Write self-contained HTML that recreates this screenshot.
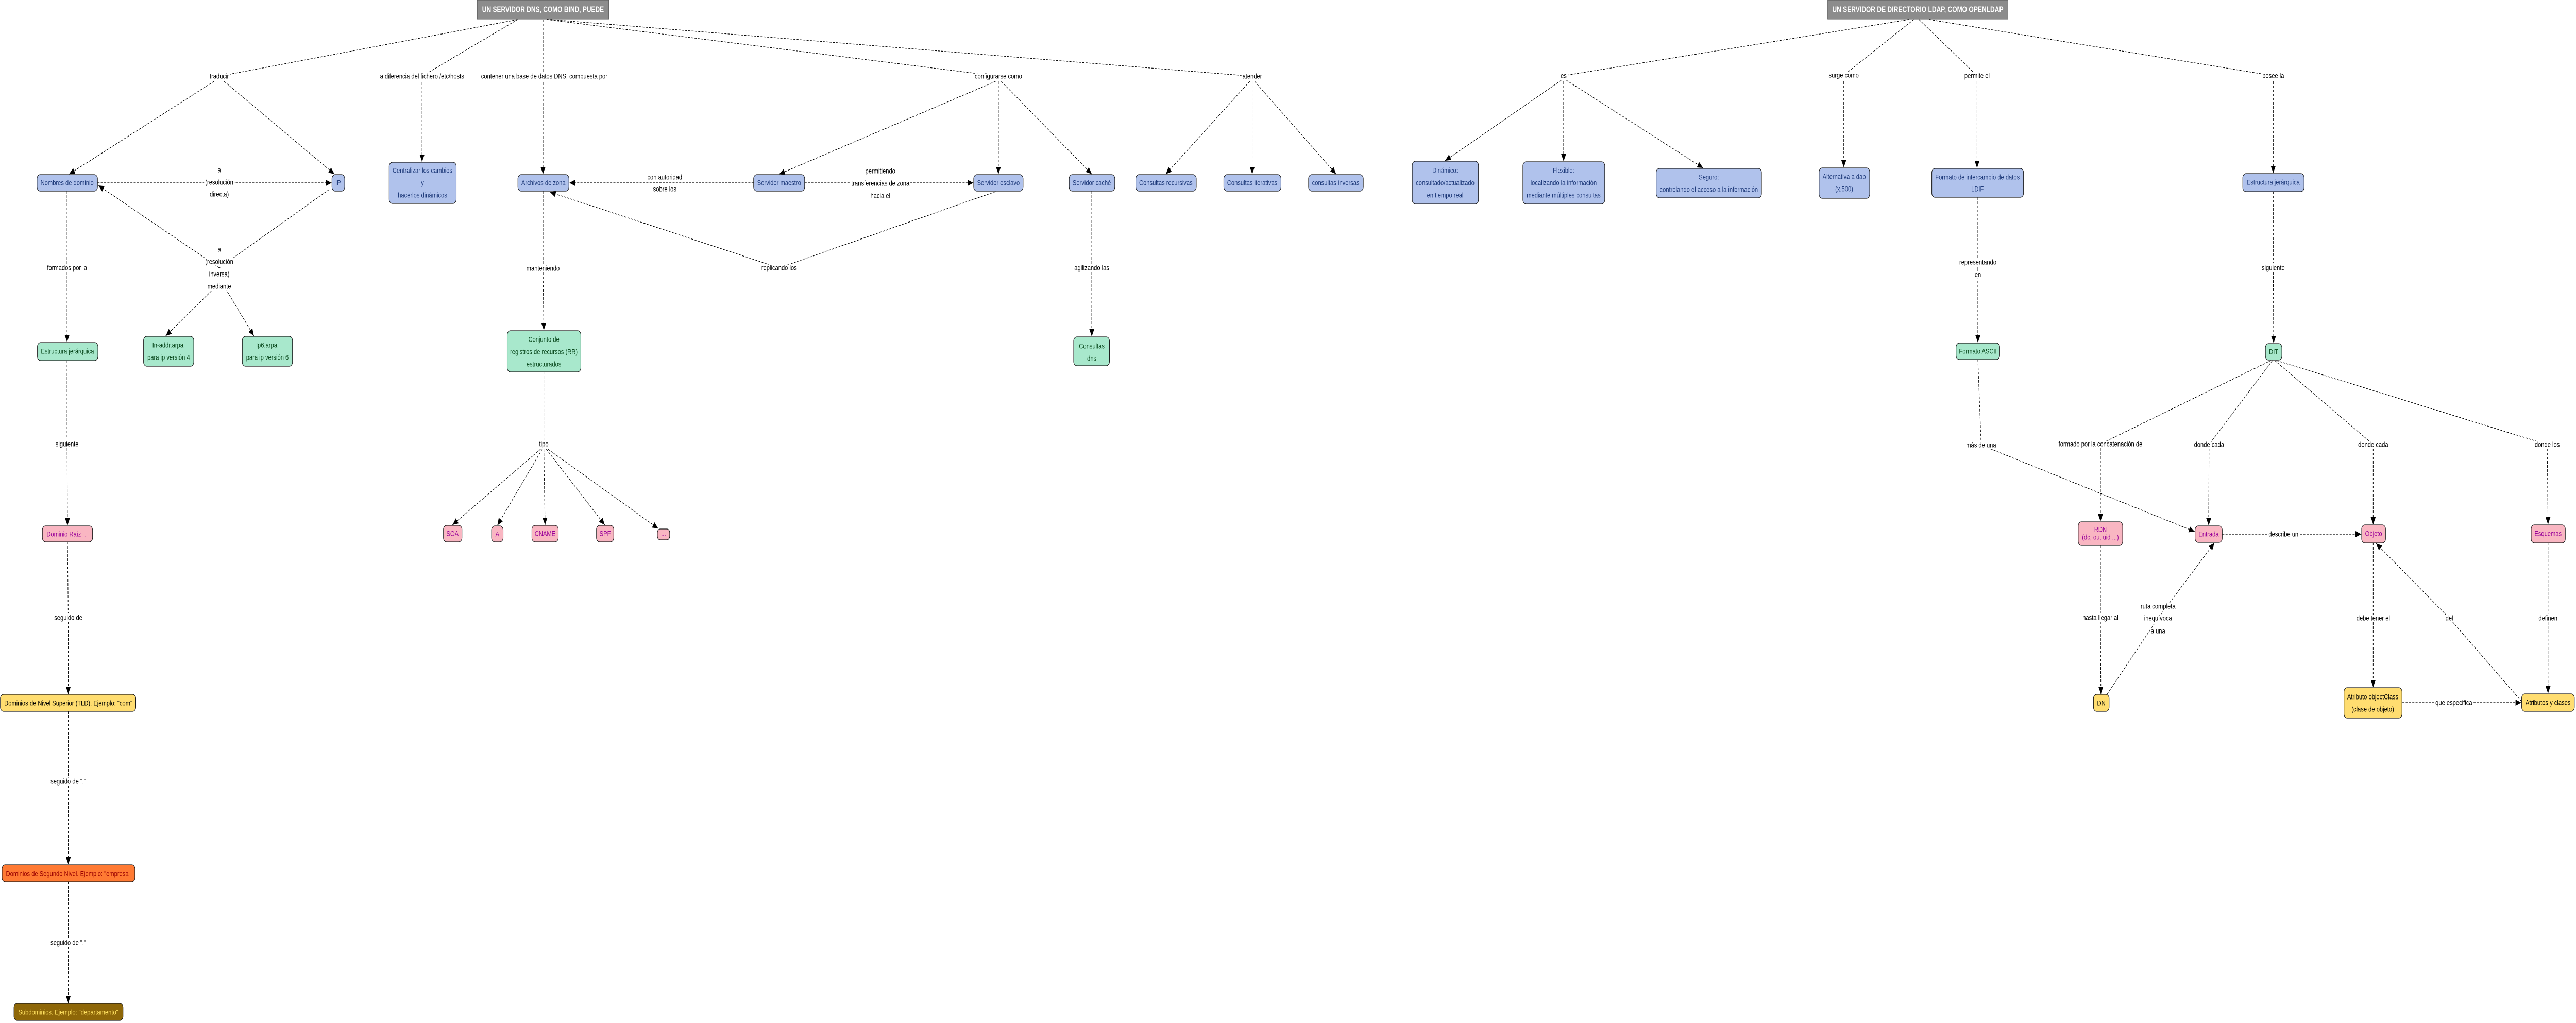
<!DOCTYPE html>
<html><head><meta charset="utf-8"><style>
html,body{margin:0;padding:0;background:#fff;overflow:hidden;width:100vw;height:100vh}
svg{display:block;width:100vw;height:100vh}
text{font-family:"Liberation Sans",sans-serif;font-size:14px}
.l{fill:none;stroke:#000;stroke-width:1.2;stroke-dasharray:5,3}
.a{marker-end:url(#ar)}
.lb{fill:#000;text-anchor:middle;dominant-baseline:central;stroke:#fff;stroke-width:7px;paint-order:stroke;stroke-linejoin:round}
.t{text-anchor:middle;dominant-baseline:central}
.bl{fill:#b0c2ec;stroke:#1a1a1a;stroke-width:1.3}
.gr{fill:#a8e8cc;stroke:#1a1a1a;stroke-width:1.3}
.pk{fill:#f9b6c2;stroke:#1a1a1a;stroke-width:1.3}
.ye{fill:#ffdd70;stroke:#1a1a1a;stroke-width:1.3}
.or{fill:#ff7a33;stroke:#1a1a1a;stroke-width:1.3}
.br{fill:#8e6708;stroke:#1a1a1a;stroke-width:1.3}
.tb{fill:#1e3a7a}.tg{fill:#0a4a1e}.tp{fill:#990099}.ty{fill:#000}.to{fill:#990000}.tr{fill:#ffe060}
.ti{fill:#fff;font-weight:bold;font-size:16px}
</style></head><body>
<svg viewBox="0 0 6262 1986" preserveAspectRatio="none" xmlns="http://www.w3.org/2000/svg">
<defs><marker id="ar" markerUnits="userSpaceOnUse" markerWidth="14" markerHeight="12" refX="14" refY="6" orient="auto"><path d="M0,0 L14,6 L0,12 z" fill="#000"/></marker></defs>

<line class="l" x1="1258" y1="38" x2="533" y2="148"/>
<line class="l" x1="1258" y1="38" x2="1026" y2="148"/>
<line class="l" x1="1320" y1="38" x2="1320" y2="148"/>
<line class="l" x1="1330" y1="38" x2="2427" y2="148"/>
<line class="l" x1="1338" y1="38" x2="3044" y2="148"/>
<line class="l a" x1="520" y1="158" x2="168" y2="338"/>
<line class="l a" x1="545" y1="158" x2="813" y2="338"/>
<line class="l a" x1="237" y1="355" x2="806" y2="355"/>
<line class="l" x1="800" y1="368" x2="533" y2="520"/>
<line class="l a" x1="533" y1="520" x2="239" y2="360"/>
<line class="l a" x1="520" y1="560" x2="403" y2="652"/>
<line class="l a" x1="548" y1="560" x2="617" y2="652"/>
<line class="l" x1="163" y1="371" x2="163" y2="520"/>
<line class="l a" x1="163" y1="520" x2="163" y2="664"/>
<line class="l" x1="163" y1="700" x2="163" y2="862"/>
<line class="l a" x1="163" y1="862" x2="164" y2="1020"/>
<line class="l" x1="164" y1="1052" x2="166" y2="1199"/>
<line class="l a" x1="166" y1="1199" x2="166" y2="1347"/>
<line class="l" x1="166" y1="1381" x2="166" y2="1517"/>
<line class="l a" x1="166" y1="1517" x2="166" y2="1678"/>
<line class="l" x1="166" y1="1712" x2="166" y2="1830"/>
<line class="l a" x1="166" y1="1830" x2="166" y2="1947"/>
<line class="l a" x1="1026" y1="160" x2="1026" y2="314"/>
<line class="l a" x1="1320" y1="160" x2="1320" y2="338"/>
<line class="l" x1="1320" y1="371" x2="1320" y2="521"/>
<line class="l a" x1="1320" y1="521" x2="1322" y2="641"/>
<line class="l" x1="1322" y1="722" x2="1322" y2="862"/>
<line class="l a" x1="1314" y1="872" x2="1100" y2="1019"/>
<line class="l a" x1="1318" y1="872" x2="1209" y2="1020"/>
<line class="l a" x1="1322" y1="872" x2="1325" y2="1019"/>
<line class="l a" x1="1328" y1="872" x2="1470" y2="1019"/>
<line class="l a" x1="1332" y1="872" x2="1600" y2="1026"/>
<line class="l" x1="1832" y1="355" x2="1616" y2="355"/>
<line class="l a" x1="1616" y1="355" x2="1384" y2="355"/>
<line class="l" x1="1956" y1="355" x2="2140" y2="355"/>
<line class="l a" x1="2140" y1="355" x2="2366" y2="355"/>
<line class="l" x1="2420" y1="372" x2="1894" y2="520"/>
<line class="l a" x1="1894" y1="520" x2="1337" y2="373"/>
<line class="l a" x1="2420" y1="158" x2="1894" y2="338"/>
<line class="l a" x1="2427" y1="158" x2="2427" y2="338"/>
<line class="l a" x1="2434" y1="158" x2="2654" y2="338"/>
<line class="l" x1="2654" y1="371" x2="2654" y2="520"/>
<line class="l a" x1="2654" y1="520" x2="2654" y2="653"/>
<line class="l a" x1="3038" y1="158" x2="2834" y2="338"/>
<line class="l a" x1="3044" y1="158" x2="3044" y2="338"/>
<line class="l a" x1="3050" y1="158" x2="3248" y2="338"/>

<line class="l" x1="4640" y1="38" x2="3801" y2="147"/>
<line class="l" x1="4652" y1="38" x2="4482" y2="146"/>
<line class="l" x1="4665" y1="38" x2="4806" y2="147"/>
<line class="l" x1="4690" y1="38" x2="5526" y2="147"/>
<line class="l a" x1="3795" y1="156" x2="3513" y2="312"/>
<line class="l a" x1="3801" y1="158" x2="3801" y2="313"/>
<line class="l a" x1="3808" y1="156" x2="4140" y2="326"/>
<line class="l a" x1="4482" y1="158" x2="4482" y2="325"/>
<line class="l a" x1="4806" y1="158" x2="4806" y2="326"/>
<line class="l" x1="4808" y1="383" x2="4808" y2="521"/>
<line class="l a" x1="4808" y1="521" x2="4808" y2="665"/>
<line class="l" x1="4808" y1="698" x2="4816" y2="864"/>
<line class="l a" x1="4816" y1="864" x2="5335" y2="1032"/>
<line class="l a" x1="5526" y1="158" x2="5526" y2="336"/>
<line class="l" x1="5526" y1="372" x2="5526" y2="520"/>
<line class="l a" x1="5526" y1="520" x2="5527" y2="666"/>
<line class="l" x1="5520" y1="700" x2="5106" y2="862"/>
<line class="l a" x1="5106" y1="862" x2="5106" y2="1012"/>
<line class="l" x1="5524" y1="700" x2="5370" y2="863"/>
<line class="l a" x1="5370" y1="863" x2="5369" y2="1020"/>
<line class="l" x1="5530" y1="700" x2="5769" y2="863"/>
<line class="l a" x1="5769" y1="863" x2="5769" y2="1018"/>
<line class="l" x1="5534" y1="700" x2="6192" y2="863"/>
<line class="l a" x1="6192" y1="863" x2="6194" y2="1018"/>
<line class="l" x1="5106" y1="1059" x2="5106" y2="1199"/>
<line class="l a" x1="5106" y1="1199" x2="5107" y2="1347"/>
<line class="l" x1="5122" y1="1348" x2="5246" y2="1200"/>
<line class="l a" x1="5246" y1="1200" x2="5383" y2="1054"/>
<line class="l" x1="5402" y1="1037" x2="5551" y2="1037"/>
<line class="l a" x1="5551" y1="1037" x2="5740" y2="1037"/>
<line class="l" x1="5769" y1="1054" x2="5769" y2="1200"/>
<line class="l a" x1="5769" y1="1200" x2="5769" y2="1334"/>
<line class="l" x1="6130" y1="1362" x2="5954" y2="1200"/>
<line class="l a" x1="5954" y1="1200" x2="5776" y2="1055"/>
<line class="l" x1="5840" y1="1364" x2="5965" y2="1364"/>
<line class="l a" x1="5965" y1="1364" x2="6129" y2="1364"/>
<line class="l" x1="6194" y1="1054" x2="6194" y2="1200"/>
<line class="l a" x1="6194" y1="1200" x2="6194" y2="1346"/>

<text class="lb" x="533" y="148">traducir</text>
<text class="lb" x="1026" y="148">a diferencia del fichero /etc/hosts</text>
<text class="lb" x="1323" y="148">contener una base de datos DNS, compuesta por</text>
<text class="lb" x="2427" y="148">configurarse como</text>
<text class="lb" x="3044" y="148">atender</text>
<text class="lb" x="533" y="330">a</text><text class="lb" x="533" y="354">(resolución</text><text class="lb" x="533" y="377">directa)</text>
<text class="lb" x="533" y="484">a</text><text class="lb" x="533" y="508">(resolución</text><text class="lb" x="533" y="532">inversa)</text><text class="lb" x="533" y="556">mediante</text>
<text class="lb" x="163" y="520">formados por la</text>
<text class="lb" x="163" y="862">siguiente</text>
<text class="lb" x="166" y="1199">seguido de</text>
<text class="lb" x="166" y="1517">seguido de "."</text>
<text class="lb" x="166" y="1830">seguido de "."</text>
<text class="lb" x="1320" y="521">manteniendo</text>
<text class="lb" x="1322" y="862">tipo</text>
<text class="lb" x="1616" y="344">con autoridad</text><text class="lb" x="1616" y="367">sobre los</text>
<text class="lb" x="2140" y="332">permitiendo</text><text class="lb" x="2140" y="356">transferencias de zona</text><text class="lb" x="2140" y="380">hacia el</text>
<text class="lb" x="1894" y="520">replicando los</text>
<text class="lb" x="2654" y="520">agilizando las</text>
<text class="lb" x="3801" y="147">es</text>
<text class="lb" x="4482" y="146">surge como</text>
<text class="lb" x="4806" y="147">permite el</text>
<text class="lb" x="5526" y="147">posee la</text>
<text class="lb" x="4808" y="509">representando</text><text class="lb" x="4808" y="533">en</text>
<text class="lb" x="4816" y="864">más de una</text>
<text class="lb" x="5526" y="520">siguiente</text>
<text class="lb" x="5106" y="862">formado por la concatenación de</text>
<text class="lb" x="5370" y="863">donde cada</text>
<text class="lb" x="5769" y="863">donde cada</text>
<text class="lb" x="6192" y="863">donde los</text>
<text class="lb" x="5106" y="1199">hasta llegar al</text>
<text class="lb" x="5246" y="1177">ruta completa</text><text class="lb" x="5246" y="1200">inequívoca</text><text class="lb" x="5246" y="1225">a una</text>
<text class="lb" x="5551" y="1037">describe un</text>
<text class="lb" x="5769" y="1200">debe tener el</text>
<text class="lb" x="5954" y="1200">del</text>
<text class="lb" x="6194" y="1200">definen</text>
<text class="lb" x="5965" y="1364">que especifica</text>

<rect x="1160" y="0" width="320" height="37" fill="#8c8c8c" stroke="#555"/>
<text class="t ti" x="1320" y="19" textLength="296" lengthAdjust="spacingAndGlyphs">UN SERVIDOR DNS, COMO BIND, PUEDE</text>
<rect x="4443" y="0" width="438" height="37" fill="#8c8c8c" stroke="#555"/>
<text class="t ti" x="4662" y="19" textLength="416" lengthAdjust="spacingAndGlyphs">UN SERVIDOR DE DIRECTORIO LDAP, COMO OPENLDAP</text>

<rect class="bl" x="90" y="339" width="147" height="32" rx="8"/><text class="t tb" x="163" y="355">Nombres de dominio</text>
<rect class="bl" x="807" y="339" width="31" height="32" rx="8"/><text class="t tb" x="822" y="355">IP</text>
<rect class="bl" x="946" y="315" width="163" height="80" rx="8"/><text class="t tb" x="1027" y="331">Centralizar los cambios</text><text class="t tb" x="1027" y="355">y</text><text class="t tb" x="1027" y="379">hacerlos dinámicos</text>
<rect class="bl" x="1259" y="339" width="124" height="32" rx="8"/><text class="t tb" x="1321" y="355">Archivos de zona</text>
<rect class="bl" x="1832" y="339" width="124" height="32" rx="8"/><text class="t tb" x="1894" y="355">Servidor maestro</text>
<rect class="bl" x="2367" y="339" width="120" height="32" rx="8"/><text class="t tb" x="2427" y="355">Servidor esclavo</text>
<rect class="bl" x="2599" y="339" width="111" height="32" rx="8"/><text class="t tb" x="2654" y="355">Servidor caché</text>
<rect class="bl" x="2761" y="339" width="147" height="32" rx="8"/><text class="t tb" x="2834" y="355">Consultas recursivas</text>
<rect class="bl" x="2975" y="339" width="139" height="32" rx="8"/><text class="t tb" x="3044" y="355">Consultas iterativas</text>
<rect class="bl" x="3181" y="339" width="133" height="32" rx="8"/><text class="t tb" x="3247" y="355">consultas inversas</text>

<rect class="gr" x="91" y="665" width="147" height="35" rx="8"/><text class="t tg" x="164" y="682">Estructura jerárquica</text>
<rect class="gr" x="349" y="653" width="122" height="58" rx="8"/><text class="t tg" x="410" y="670">In-addr.arpa.</text><text class="t tg" x="410" y="694">para ip versión 4</text>
<rect class="gr" x="589" y="653" width="122" height="58" rx="8"/><text class="t tg" x="650" y="670">Ip6.arpa.</text><text class="t tg" x="650" y="694">para ip versión 6</text>
<rect class="gr" x="1233" y="642" width="179" height="80" rx="8"/><text class="t tg" x="1322" y="659">Conjunto de</text><text class="t tg" x="1322" y="683">registros de recursos (RR)</text><text class="t tg" x="1322" y="707">estructurados</text>
<rect class="gr" x="2610" y="654" width="87" height="56" rx="8"/><text class="t tg" x="2654" y="672">Consultas</text><text class="t tg" x="2654" y="696">dns</text>

<rect class="pk" x="103" y="1021" width="122" height="31" rx="8"/><text class="t tp" x="164" y="1037">Dominio Raíz "."</text>
<rect class="ye" x="1" y="1348" width="329" height="33" rx="8"/><text class="t ty" x="166" y="1365">Dominios de Nivel Superior (TLD). Ejemplo: "com"</text>
<rect class="or" x="5" y="1679" width="323" height="33" rx="8"/><text class="t to" x="166" y="1696">Dominios de Segundo Nivel. Ejemplo: "empresa"</text>
<rect class="br" x="34" y="1948" width="265" height="33" rx="8"/><text class="t tr" x="166" y="1965">Subdominios. Ejemplo: "departamento"</text>

<rect class="pk" x="1078" y="1020" width="45" height="32" rx="8"/><text class="t tp" x="1100" y="1036">SOA</text>
<rect class="pk" x="1195" y="1021" width="28" height="31" rx="8"/><text class="t tp" x="1209" y="1037">A</text>
<rect class="pk" x="1293" y="1020" width="64" height="32" rx="8"/><text class="t tp" x="1325" y="1036">CNAME</text>
<rect class="pk" x="1450" y="1020" width="42" height="32" rx="8"/><text class="t tp" x="1471" y="1036">SPF</text>
<rect class="pk" x="1598" y="1027" width="30" height="21" rx="7"/><text class="t tp" x="1613" y="1036">...</text>

<rect class="bl" x="3433" y="313" width="161" height="83" rx="8"/><text class="t tb" x="3513" y="331">Dinámico:</text><text class="t tb" x="3513" y="355">consultado/actualizado</text><text class="t tb" x="3513" y="379">en tiempo real</text>
<rect class="bl" x="3702" y="314" width="199" height="82" rx="8"/><text class="t tb" x="3801" y="331">Flexible:</text><text class="t tb" x="3801" y="355">localizando la información</text><text class="t tb" x="3801" y="379">mediante múltiples consultas</text>
<rect class="bl" x="4026" y="327" width="256" height="57" rx="8"/><text class="t tb" x="4154" y="344">Seguro:</text><text class="t tb" x="4154" y="368">controlando el acceso a la información</text>
<rect class="bl" x="4422" y="326" width="123" height="59" rx="8"/><text class="t tb" x="4483" y="343">Alternativa a dap</text><text class="t tb" x="4483" y="367">(x.500)</text>
<rect class="bl" x="4696" y="327" width="223" height="56" rx="8"/><text class="t tb" x="4807" y="344">Formato de intercambio de datos</text><text class="t tb" x="4807" y="367">LDIF</text>
<rect class="bl" x="5452" y="337" width="149" height="35" rx="8"/><text class="t tb" x="5526" y="354">Estructura jerárquica</text>
<rect class="gr" x="4755" y="666" width="106" height="32" rx="8"/><text class="t tg" x="4808" y="682">Formato ASCII</text>
<rect class="gr" x="5507" y="667" width="40" height="32" rx="8"/><text class="t tg" x="5527" y="683">DIT</text>

<rect class="pk" x="5052" y="1013" width="108" height="46" rx="8"/><text class="t tp" x="5106" y="1028">RDN</text><text class="t tp" x="5106" y="1043">(dc, ou, uid ...)</text>
<rect class="pk" x="5336" y="1021" width="66" height="32" rx="8"/><text class="t tp" x="5369" y="1037">Entrada</text>
<rect class="pk" x="5741" y="1019" width="58" height="35" rx="8"/><text class="t tp" x="5770" y="1036">Objeto</text>
<rect class="pk" x="6153" y="1019" width="83" height="35" rx="8"/><text class="t tp" x="6194" y="1036">Esquemas</text>
<rect class="ye" x="5089" y="1348" width="38" height="33" rx="8"/><text class="t ty" x="5108" y="1365">DN</text>
<rect class="ye" x="5698" y="1335" width="141" height="59" rx="8"/><text class="t ty" x="5768" y="1353">Atributo objectClass</text><text class="t ty" x="5768" y="1377">(clase de objeto)</text>
<rect class="ye" x="6130" y="1347" width="128" height="34" rx="8"/><text class="t ty" x="6194" y="1364">Atributos y clases</text>
</svg>
</body></html>
